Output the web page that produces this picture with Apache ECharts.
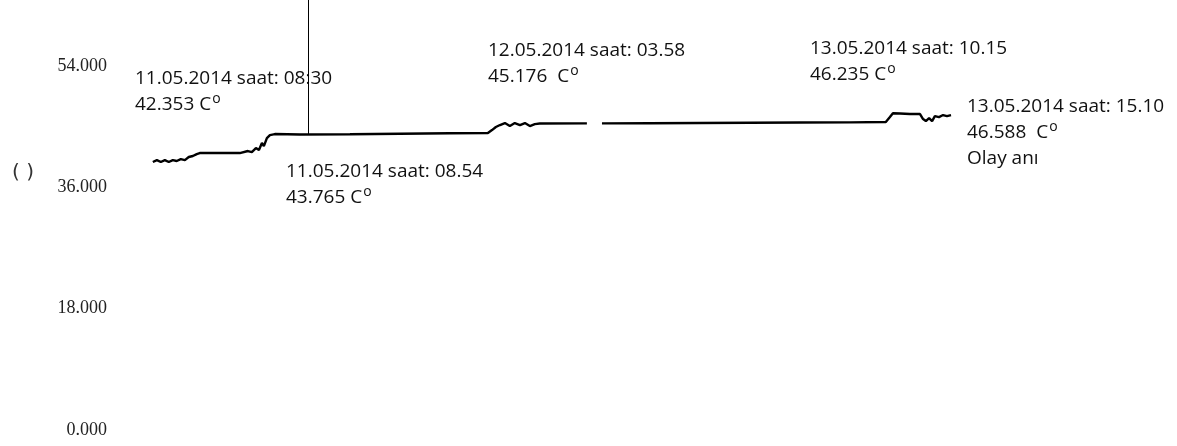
<!DOCTYPE html>
<html>
<head>
<meta charset="utf-8">
<script src="https://cdn.jsdelivr.net/npm/echarts@6/dist/echarts.min.js"></script>
<style>
html,body{margin:0;padding:0;background:#fff;}
#c{width:1177px;height:446px;}
</style>
</head>
<body>
<div id="c"></div>
<script>
// Time stamps of the readings
var times = [
  '2014-05-11 01:19','2014-05-11 01:38','2014-05-11 01:56','2014-05-11 02:15','2014-05-11 02:33',
  '2014-05-11 02:52','2014-05-11 03:10','2014-05-11 03:29','2014-05-11 03:48','2014-05-11 04:06',
  '2014-05-11 04:25','2014-05-11 04:43','2014-05-11 04:57','2014-05-11 06:30','2014-05-11 08:03',
  '2014-05-11 08:41','2014-05-11 08:59','2014-05-11 09:18','2014-05-11 09:32','2014-05-11 09:46',
  '2014-05-11 09:55','2014-05-11 10:09','2014-05-11 10:23','2014-05-11 10:46','2014-05-11 12:42',
  '2014-05-11 16:35','2014-05-11 20:27','2014-05-12 00:19','2014-05-12 03:16','2014-05-12 03:35',
  '2014-05-12 03:53','2014-05-12 04:12','2014-05-12 04:35','2014-05-12 04:58','2014-05-12 05:21',
  '2014-05-12 05:45','2014-05-12 06:08','2014-05-12 06:31','2014-05-12 06:54','2014-05-12 07:17',
  '2014-05-12 10:56','2014-05-12 11:29','2014-05-12 12:06','2014-05-12 15:49','2014-05-12 19:41',
  '2014-05-12 23:34','2014-05-13 03:26','2014-05-13 07:18','2014-05-13 10:05','2014-05-13 10:24',
  '2014-05-13 10:38','2014-05-13 11:11','2014-05-13 11:57','2014-05-13 12:44','2014-05-13 12:58',
  '2014-05-13 13:11','2014-05-13 13:26','2014-05-13 13:40','2014-05-13 13:53','2014-05-13 14:12',
  '2014-05-13 14:31','2014-05-13 14:49','2014-05-13 15:08'
];
// Temperature values (C°); null = gap in recording
var temps = [
  39.76,40.05,39.76,40.05,39.76,
  40.05,39.91,40.20,40.05,40.50,
  40.65,40.94,41.09,41.09,41.09,
  41.39,41.24,41.83,41.54,42.58,
  42.13,43.31,43.76,43.91,43.84,
  43.88,43.95,44.02,44.06,44.50,
  44.95,45.25,45.54,45.10,45.54,
  45.25,45.54,45.10,45.39,45.47,
  45.50,null,45.50,45.52,45.55,
  45.58,45.62,45.65,45.69,46.43,
  47.00,46.95,46.88,46.88,46.14,
  45.84,46.28,45.84,46.58,46.43,
  46.73,46.58,46.73
];
var yTicks = [0, 18, 36, 54];
var markerTime = '2014-05-11 13:19';
var markerValue = 43.85;

var annotations = [
  {lines:['11.05.2014 saat: 08:30','42.353 C{s|o}'], x:135, y:66},
  {lines:['11.05.2014 saat: 08.54','43.765 C{s|o}'], x:286, y:159},
  {lines:['12.05.2014 saat: 03.58','45.176  C{s|o}'], x:488, y:38},
  {lines:['13.05.2014 saat: 10.15','46.235 C{s|o}'], x:810, y:36},
  {lines:['13.05.2014 saat: 15.10','46.588  C{s|o}','Olay anı'], x:967, y:94}
];

var data = times.map(function(t,i){ return [t, temps[i]]; });
var yMax = 63.8;

var graphics = [];
annotations.forEach(function(a){
  graphics.push({
    type:'text', left:a.x, top:a.y,
    style:{
      text:a.lines.join('\n'),
      font:'19px "Open Sans"',
      fill:'#111',
      lineHeight:26,
      rich:{
        s:{fontSize:14, fontFamily:'Open Sans', fill:'#111', verticalAlign:'top', lineHeight:22, padding:[0,0,0,1]}
      }
    }
  });
});
graphics.push({type:'text', left:12, top:163, style:{text:'( )', font:'20px "DejaVu Sans"', fill:'#333'}});

var chart = echarts.init(document.getElementById('c'));
chart.setOption({
  animation:false,
  backgroundColor:'#fff',
  grid:{left:110, right:0, top:0, bottom:16},
  xAxis:{
    type:'time',
    min:'2014-05-10 22:00', max:'2014-05-14 08:38',
    show:false
  },
  yAxis:{
    type:'value', min:0, max:yMax, interval:18,
    axisLine:{show:false}, axisTick:{show:false}, splitLine:{show:false},
    axisLabel:{
      showMaxLabel:false,
      margin:3,
      fontFamily:'Liberation Serif', fontSize:18, color:'#222',
      formatter:function(v){ return yTicks.indexOf(v) >= 0 ? v.toFixed(3) : ''; }
    }
  },
  series:[{
    type:'line',
    data:data,
    showSymbol:false,
    connectNulls:false,
    lineStyle:{color:'#000', width:2.4},
    markLine:{
      silent:true, symbol:['none','none'],
      label:{show:false},
      lineStyle:{color:'#000', width:1, type:'solid'},
      data:[[{coord:[markerTime, markerValue]},{coord:[markerTime, yMax]}]]
    }
  }],
  graphic:graphics
});
</script>
</body>
</html>
